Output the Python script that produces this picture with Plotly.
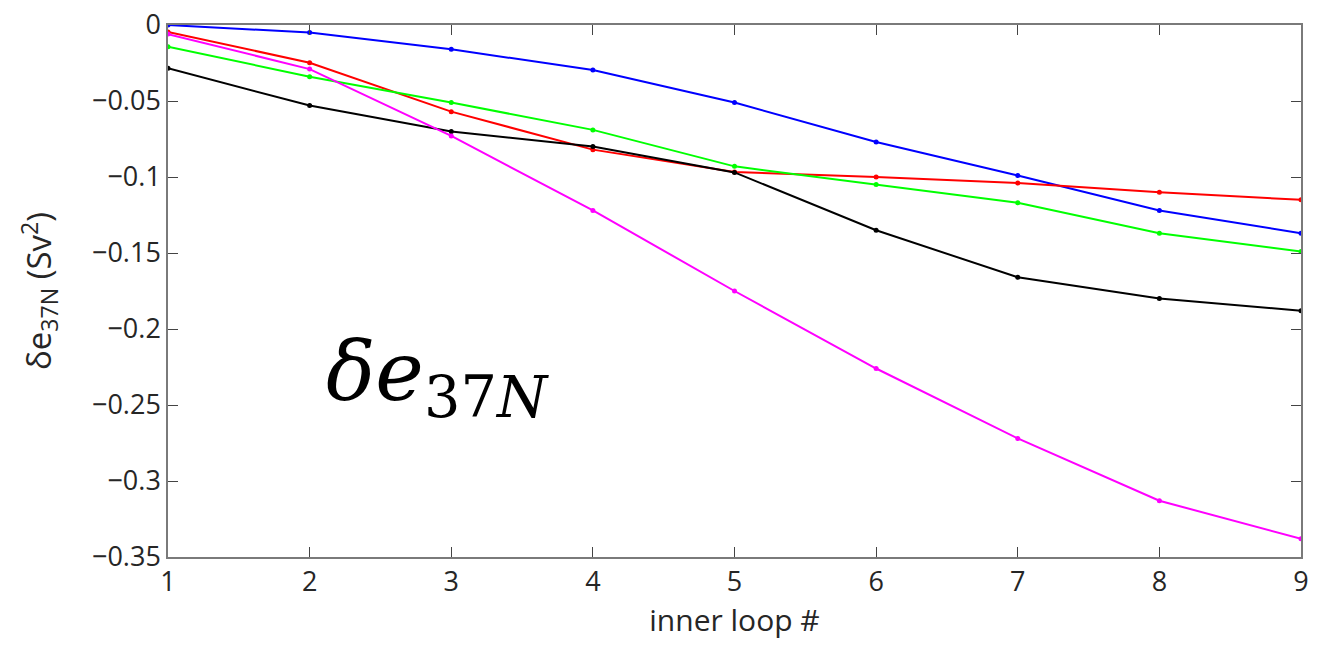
import plotly.graph_objects as go

x = [1, 2, 3, 4, 5, 6, 7, 8, 9]
blue = [0.0, -0.005, -0.016, -0.0296, -0.051, -0.077, -0.099, -0.122, -0.137]
red = [-0.0046, -0.0248, -0.057, -0.082, -0.0967, -0.100, -0.104, -0.110, -0.115]
green = [-0.0143, -0.034, -0.051, -0.069, -0.093, -0.105, -0.117, -0.137, -0.149]
black = [-0.0285, -0.053, -0.070, -0.080, -0.097, -0.135, -0.166, -0.180, -0.188]
magenta = [-0.006, -0.029, -0.073, -0.122, -0.175, -0.226, -0.272, -0.313, -0.338]

y_ticks = [0, -0.05, -0.1, -0.15, -0.2, -0.25, -0.3, -0.35]
y_ticktext = ["0", "\u22120.05", "\u22120.1", "\u22120.15", "\u22120.2", "\u22120.25", "\u22120.3", "\u22120.35"]

series = [("blue", blue, "#0000ff"), ("red", red, "#ff0000"), ("green", green, "#00ff00"),
          ("black", black, "#000000"), ("magenta", magenta, "#ff00ff")]

fig = go.Figure()
for name, vals, col in series:
    fig.add_trace(go.Scatter(x=x, y=vals, mode="lines+markers", name=name,
                             line=dict(color=col, width=2),
                             marker=dict(color=col, size=5)))

font_main = "Open Sans, Liberation Sans, sans-serif"
axis_common = dict(showline=True, linecolor="#7a7a7a", linewidth=1.5, mirror="ticks",
                   ticks="inside", ticklen=10, tickcolor="#444444", showgrid=False,
                   zeroline=False, ticklabeloverflow="allow", automargin=False,
                   tickfont=dict(family=font_main, size=27, color="#262626"))

fig.update_xaxes(range=[1, 9], tickvals=x, title=dict(text="inner loop #",
                 font=dict(family=font_main, size=30, color="#262626"), standoff=4),
                 **axis_common)
fig.update_yaxes(range=[-0.35, 0], tickvals=y_ticks, ticktext=y_ticktext,
                 title=dict(text="\u03b4e<sub>37N</sub> (Sv<sup>2</sup>)",
                            font=dict(family=font_main, size=33, color="#262626"), standoff=30),
                 **axis_common)

fig.add_annotation(xref="paper", yref="paper", x=0.138, y=0.337, xanchor="left", yanchor="middle",
                   text="<i>\u03b4e</i><sub>37<i>N</i></sub>", showarrow=False,
                   font=dict(family="DejaVu Serif, Liberation Serif, serif", size=82, color="#000000"))

fig.update_layout(width=1320, height=648, margin=dict(l=168, r=19, t=25, b=91, autoexpand=False),
                  plot_bgcolor="white", paper_bgcolor="white", showlegend=False)

fig.write_html("out.html", post_script="document.body.style.margin='0';",
               config={"displayModeBar": False})
